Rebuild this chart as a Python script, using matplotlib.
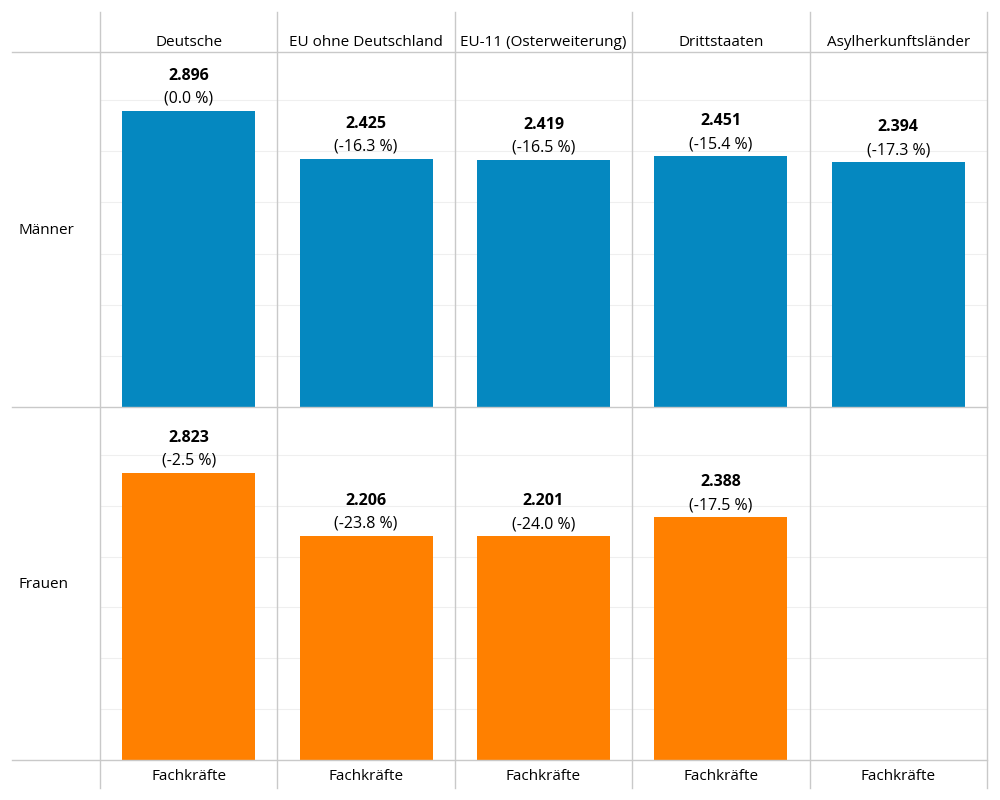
import numpy as np
import matplotlib
matplotlib.use("Agg")
import matplotlib.pyplot as plt
from matplotlib.lines import Line2D

plt.rcParams['font.family'] = ['Open Sans', 'DejaVu Sans']

categories = ['Deutsche', 'EU ohne Deutschland', 'EU-11 (Osterweiterung)', 'Drittstaaten', 'Asylherkunftsländer']
rows = ['Männer', 'Frauen']
maenner = [2896, 2425, 2419, 2451, 2394]
maenner_pct = [0.0, -16.3, -16.5, -15.4, -17.3]
frauen = [2823, 2206, 2201, 2388, np.nan]
frauen_pct = [-2.5, -23.8, -24.0, -17.5, np.nan]
bottom_label = 'Fachkräfte'

blue = '#0588C0'
orange = '#FF8000'
grid_c = '#EFEFEF'
sep_c = '#C9C9C9'

W, H = 1000, 800
fig = plt.figure(figsize=(10, 8), dpi=100)

def fx(x):
    return x / W

def fy(y):
    return 1 - y / H

left, right = 100, 987
top_hdr, top1, mid, bot, bottom_end = 12, 52, 407, 760, 788

def fmt(v):
    return f"{v:,.0f}".replace(',', '.')

row_data = [(maenner, maenner_pct, blue, top1, mid), (frauen, frauen_pct, orange, mid, bot)]
for vals, pcts, color, ytop, ybot in row_data:
    ax = fig.add_axes([fx(left), fy(ybot), fx(right - left), (ybot - ytop) / H])
    x = np.arange(len(categories))
    ax.set_xlim(-0.5, len(categories) - 0.5)
    ax.set_ylim(0, 3470)
    for g in np.arange(500, 3470, 500):
        ax.axhline(g, color=grid_c, lw=0.8, zorder=0)
    ax.bar(x, vals, width=0.75, color=color, zorder=2)
    for xi, v, p in zip(x, vals, pcts):
        if np.isnan(v):
            continue
        ax.annotate(fmt(v), (xi, v), xytext=(0, 35), textcoords='offset pixels',
                    ha='center', va='center', fontsize=11.5, fontweight='bold', color='black')
        ax.annotate(f"({p:.1f} %)", (xi, v), xytext=(0, 12), textcoords='offset pixels',
                    ha='center', va='center', fontsize=11.5, color='black')
    ax.axis('off')

# separators
col_w = (right - left) / len(categories)
for i in range(len(categories) + 1):
    xx = left + i * col_w
    fig.add_artist(Line2D([fx(xx), fx(xx)], [fy(top_hdr), fy(bottom_end)], color=sep_c, lw=1))
for yy in (top1, mid, bot):
    fig.add_artist(Line2D([fx(12), fx(right)], [fy(yy), fy(yy)], color=sep_c, lw=1))

# header and footer labels
for i, c in enumerate(categories):
    cx = left + (i + 0.5) * col_w
    fig.text(fx(cx), fy(42), c, ha='center', va='center', fontsize=11)
    fig.text(fx(cx), fy(776), bottom_label, ha='center', va='center', fontsize=11)

# row labels
fig.text(fx(18), fy(231), rows[0], ha='left', va='center', fontsize=11)
fig.text(fx(18), fy(585), rows[1], ha='left', va='center', fontsize=11)

fig.savefig('out.png', dpi=100, facecolor='white')
